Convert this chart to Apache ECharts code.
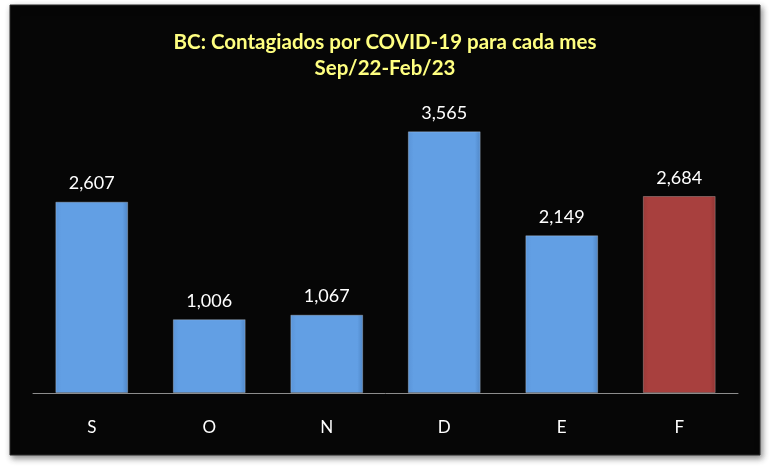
<!DOCTYPE html>
<html><head><meta charset="utf-8">
<script src="https://cdn.jsdelivr.net/npm/echarts@6/dist/echarts.min.js"></script>
<style>html,body{margin:0;padding:0;background:#fff;}#c{width:770px;height:470px;}</style>
</head><body><div id="c"></div>
<script>
var categories = ['S', 'O', 'N', 'D', 'E', 'F'];
var values = [2607, 1006, 1067, 3565, 2149, 2684];
var titleLines = ['BC: Contagiados por COVID-19 para cada mes', 'Sep/22-Feb/23'];

var blue = {type:'linear',x:0,y:0,x2:1,y2:0,colorStops:[{offset:0,color:'#5a94d8'},{offset:0.08,color:'#629fe4'},{offset:0.92,color:'#629fe4'},{offset:1,color:'#4f86c6'}]};
var red = {type:'linear',x:0,y:0,x2:1,y2:0,colorStops:[{offset:0,color:'#9a3a38'},{offset:0.08,color:'#a8403e'},{offset:0.92,color:'#a8403e'},{offset:1,color:'#8f3433'}]};

var data = values.map(function(v, i){
  return {value: v, itemStyle: {color: i === values.length - 1 ? red : blue}};
});

var chart = echarts.init(document.getElementById('c'), null, {renderer:'canvas'});
chart.setOption({
  animation: false,
  backgroundColor: '#ffffff',
  graphic: [{
    type: 'rect', z: -10, silent: true,
    shape: {x: 10, y: 5, width: 750, height: 450},
    style: {fill: '#060606', stroke: '#2a2a2a', lineWidth: 1, shadowBlur: 6, shadowColor: 'rgba(0,0,0,0.45)', shadowOffsetX: 2, shadowOffsetY: 3}
  }],
  title: {
    text: titleLines.join('\n'),
    left: 'center', top: 24,
    textStyle: {color: '#ffff80', fontFamily: 'Lato', fontWeight: 'bold', fontSize: 20.5, lineHeight: 26}
  },
  grid: {left: 33, right: 32, top: 99.4, bottom: 77},
  xAxis: {
    type: 'category', data: categories,
    axisLine: {lineStyle: {color: '#8c8c8c', width: 1}},
    axisTick: {show: false},
    axisLabel: {color: '#ffffff', fontFamily: 'Lato', fontSize: 17, margin: 26}
  },
  yAxis: {type: 'value', min: 0, max: 4000, show: false, splitLine: {show: false}},
  series: [{
    type: 'bar', data: data, barCategoryGap: '38%',
    itemStyle: {borderColor: 'rgba(255,255,255,0.25)', borderWidth: 1},
    label: {
      show: true, position: 'top', distance: 9,
      color: '#ffffff', fontFamily: 'Lato', fontSize: 18,
      formatter: function(p){ return p.value.toLocaleString('en-US'); }
    }
  }]
});
</script></body></html>
